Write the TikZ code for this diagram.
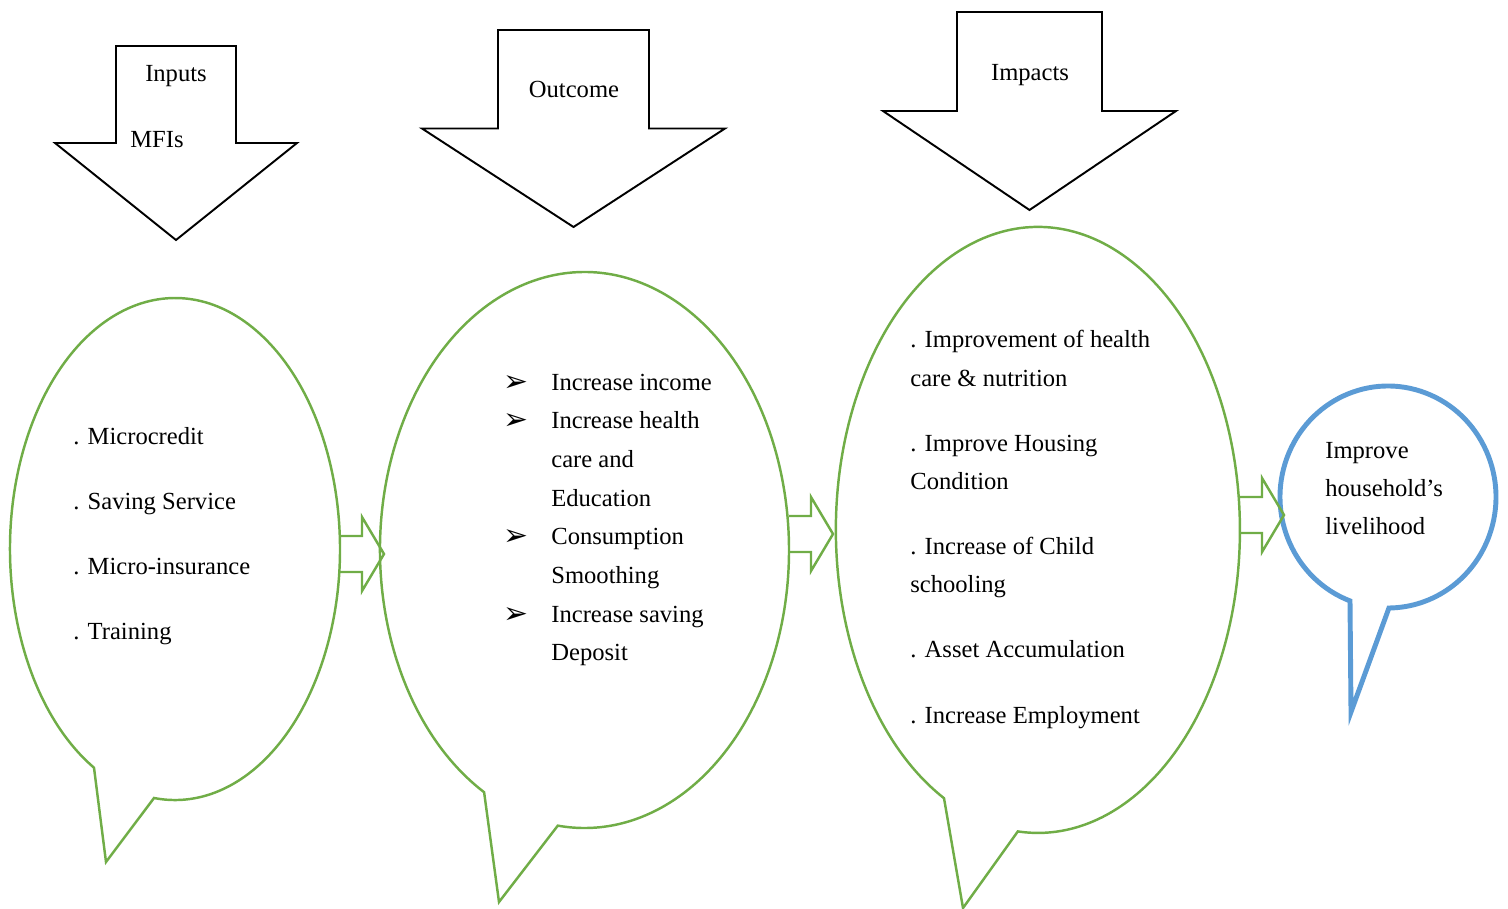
\documentclass[tikz,border=0pt]{standalone}
\usepackage{fontspec}
\setmainfont{Liberation Serif}
\newfontfamily\dingfont{DejaVu Sans}
\definecolor{leafgreen}{HTML}{70AD47}
\definecolor{skyblue}{HTML}{5B9BD5}

\begin{document}
\begin{tikzpicture}[
  x=0.02cm, y=-0.02cm,
  bubble/.style={draw=leafgreen, line width=1.4pt, line join=miter},
  goalbubble/.style={draw=skyblue, line width=2.8pt, line join=miter},
  stage/.style={draw=black, line width=1.1pt, line join=miter},
  link/.style={draw=leafgreen, line width=1.4pt, line join=miter},
  itemtext/.style={anchor=base west, inner sep=0pt, font=\fontsize{14}{16}\selectfont},
  stagetext/.style={anchor=base, inner sep=0pt, font=\fontsize{14}{16}\selectfont}
]
  \useasboundingbox (0,0) rectangle (1508,909);

  % big down arrows: centre x / top / half shaft / half head / head offset
  \foreach \cx/\ty/\sw/\hw/\bh in {176/46/60/121/97, 573.5/30/75.5/151.5/98.5, 1029.5/12/72.5/146.5/99}
    \draw[stage] (\cx-\sw,\ty) -- (\cx+\sw,\ty) -- (\cx+\sw,\ty+\bh) -- (\cx+\hw,\ty+\bh)
      -- (\cx,\ty+2*\bh) -- (\cx-\hw,\ty+\bh) -- (\cx-\sw,\ty+\bh) -- cycle;

  \node[stagetext] (inputs) at (176,82) {Inputs};
  \node[stagetext] (mfis) at (157,148) {MFIs};
  \node[stagetext] (outcome) at (574,98) {Outcome};
  \node[stagetext] (impacts) at (1030,81) {Impacts};

  % speech bubbles
  \draw[bubble] (94,767.7) arc[start angle=119.4, end angle=457.3, x radius=165, y radius=251]
    -- (106,862) -- cycle;
  \draw[bubble] (484.1,792.2) arc[start angle=119.4, end angle=457.5, x radius=204.5, y radius=278]
    -- (499,902) -- cycle;
  \draw[bubble] (944,798.2) arc[start angle=117.7, end angle=455.7, x radius=202, y radius=303]
    -- (963,908) -- cycle;
  \draw[goalbubble] (1350,600.9) arc[start angle=110.6, end angle=449.5, x radius=108, y radius=111]
    -- (1351,712) -- cycle;

  % block arrows between the bubbles
  \foreach \x/\y in {340/554, 789/534, 1240/515}
    \draw[link] (\x,\y-18) -- (\x+22,\y-18) -- (\x+22,\y-37) -- (\x+44,\y)
      -- (\x+22,\y+37) -- (\x+22,\y+18) -- (\x,\y+18);

  % inputs
  \foreach \txt [count=\i] in {Microcredit, Saving Service, Micro-insurance, Training}
    \node[itemtext] (input\i) at (73,379+65*\i) {. \txt};

  % outcomes
  \foreach \y [count=\i] in {390, 428.7, 544.8, 622.2}
    \node[itemtext] (tick\i) at (503,\y+1) {\dingfont\fontsize{17}{19}\selectfont ➢};
  \foreach \txt [count=\i] in {Increase income, Increase health, care and, Education,
      Consumption, Smoothing, Increase saving, Deposit}
    \node[itemtext] (result\i) at (551,351.3+38.7*\i) {\txt};

  % impacts
  \foreach \y/\txt [count=\i] in {347/. Improvement of health, 386/care \& nutrition,
      451/. Improve Housing, 489/Condition, 554/. Increase of Child, 592/schooling,
      657/. Asset Accumulation, 723/. Increase Employment}
    \node[itemtext] (impact\i) at (910,\y) {\txt};

  % final goal
  \foreach \y/\txt [count=\i] in {458/Improve, 496/household’s, 534/livelihood}
    \node[itemtext] (goal\i) at (1325,\y) {\txt};
\end{tikzpicture}
\end{document}
